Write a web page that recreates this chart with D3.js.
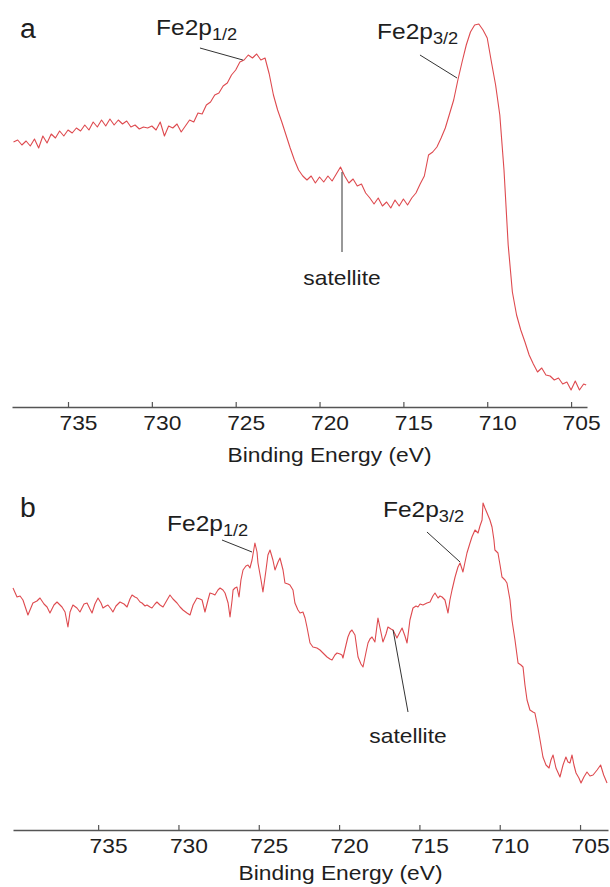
<!DOCTYPE html>
<html>
<head>
<meta charset="utf-8">
<script src="https://cdn.jsdelivr.net/npm/d3@7"></script>
<style>
  html, body { margin: 0; padding: 0; background: #fff; }
  svg { display: block; }
</style>
</head>
<body>
<div id="chart"></div>
<script>
// ---------------- DATA ----------------
// Binding-energy ticks (eV)
const tickValues = [735, 730, 725, 720, 715, 710, 705];
const axisTitle = "Binding Energy (eV)";
const panelLetters = ["a", "b"];

// Energy window of each panel (eV)
const energyRangeA = [738.34, 704.05];
const energyRangeB = [740.30, 703.26];
// Intensity window (a.u.)
const intensityRange = [0, 400];

// Spectrum a : [binding energy (eV), intensity (a.u.)]
const spectrumA = [
[738.25,258],[738.0,260],[737.75,255],[737.5,259],[737.25,254],[737.0,261],[736.75,252],[736.5,264],[736.25,257],[736.0,266],
[735.75,262],[735.5,269],[735.25,264],[735.0,270],[734.75,267],[734.5,272],[734.25,269],[734.0,275],[733.75,270],[733.5,278],
[733.25,273],[733.0,280],[732.75,274],[732.5,281],[732.25,275],[732.0,280],[731.75,276],[731.5,279],[731.25,273],[731.0,275],
[730.75,271],[730.5,273],[730.25,272],[730.0,274],[729.75,270],[729.5,278],[729.25,264],[729.0,274],[728.75,272],[728.5,276],
[728.25,268],[728.0,274],[727.75,280],[727.5,278],[727.25,287],[727.0,286],[726.75,295],[726.5,298],[726.25,305],[726.0,307],
[725.75,314],[725.5,317],[725.25,325],[725.0,330],[724.75,338],[724.5,340],[724.25,345],[724.0,342],[723.75,346],[723.5,340],
[723.25,342],[723.0,326],[722.75,305],[722.5,290],[722.25,278],[722.0,265],[721.75,252],[721.5,240],[721.25,230],[721.0,224],
[720.75,220],[720.5,224],[720.25,217],[720.0,223],[719.75,218],[719.5,224],[719.25,219],[719.0,226],[718.75,233],[718.5,224],
[718.25,217],[718.0,221],[717.75,214],[717.5,216],[717.25,207],[717.0,202],[716.75,196],[716.5,202],[716.25,194],[716.0,198],
[715.75,192],[715.5,200],[715.25,194],[715.0,201],[714.75,195],[714.5,202],[714.25,207],[714.0,216],[713.75,224],[713.5,245],
[713.25,248],[713.0,253],[712.75,262],[712.5,272],[712.25,286],[712.0,300],[711.75,320],[711.5,338],[711.25,355],[711.0,368],
[710.75,375],[710.5,376],[710.25,370],[710.0,362],[709.75,338],[709.5,315],[709.25,285],[709.0,230],[708.75,155],[708.5,108],
[708.25,85],[708.0,70],[707.75,58],[707.5,45],[707.25,36],[707.0,28],[706.75,32],[706.5,25],[706.25,24],[706.0,20],
[705.75,22],[705.5,16],[705.25,18],[705.0,10],[704.75,19],[704.5,10],[704.25,16],[704.1,15]
];

// Spectrum b : [binding energy (eV), intensity (a.u.)]
const spectrumB = [
[740.30,212],[740.05,203],[739.86,204],[739.68,200],[739.37,185],[739.06,197],[738.81,199],[738.62,202],[738.37,196],[738.18,193],
[738.00,187],[737.75,195],[737.56,198],[737.25,193],[737.06,188],[736.88,173],[736.75,188],[736.57,195],[736.32,192],[736.13,188],
[735.88,196],[735.69,197],[735.51,191],[735.38,187],[735.20,196],[735.01,202],[734.82,197],[734.70,192],[734.51,194],[734.39,195],
[734.20,191],[734.08,188],[733.89,194],[733.64,198],[733.39,196],[733.20,193],[733.02,201],[732.89,205],[732.71,203],[732.58,202],
[732.39,198],[732.27,197],[732.08,194],[731.96,195],[731.77,193],[731.65,192],[731.46,196],[731.34,198],[731.15,195],[730.96,193],
[730.71,200],[730.53,205],[730.34,201],[730.09,197],[729.90,193],[729.72,190],[729.47,187],[729.28,185],[729.09,195],[728.85,202],
[728.66,201],[728.53,200],[728.35,188],[728.16,200],[728.04,207],[727.85,206],[727.73,205],[727.54,210],[727.41,212],[727.23,210],
[727.10,207],[726.91,197],[726.79,183],[726.66,200],[726.60,210],[726.48,212],[726.36,213],[726.23,203],[726.11,220],[725.98,230],
[725.80,234],[725.67,235],[725.55,232],[725.42,240],[725.24,257],[725.11,248],[725.05,237],[724.86,220],[724.74,208],[724.55,230],
[724.43,245],[724.30,250],[724.12,240],[723.99,230],[723.80,238],[723.68,242],[723.49,230],[723.37,217],[723.18,216],[723.06,215],
[722.87,210],[722.75,197],[722.56,190],[722.43,187],[722.25,188],[722.12,182],[722.00,173],[721.81,157],[721.63,153],[721.38,152],
[721.19,150],[720.94,146],[720.75,143],[720.57,141],[720.44,140],[720.26,145],[720.13,147],[719.94,146],[719.82,145],[719.76,142],
[719.57,155],[719.45,163],[719.32,168],[719.20,170],[719.01,165],[718.82,143],[718.64,136],[718.51,133],[718.32,148],[718.20,157],
[718.08,161],[717.95,163],[717.77,158],[717.58,182],[717.45,172],[717.27,158],[717.08,166],[716.96,173],[716.77,171],[716.64,170],
[716.40,162],[716.21,168],[716.08,172],[715.90,164],[715.77,157],[715.59,180],[715.40,192],[715.21,194],[715.09,193],[714.96,196],
[714.78,195],[714.53,197],[714.34,198],[714.16,204],[714.03,207],[713.84,202],[713.72,204],[713.59,203],[713.41,200],[713.22,187],
[713.10,200],[712.97,210],[712.78,223],[712.60,233],[712.47,237],[712.29,228],[712.16,238],[712.04,247],[711.85,257],[711.73,263],
[711.54,270],[711.35,267],[711.23,274],[711.10,280],[711.04,297],[710.92,292],[710.79,287],[710.61,280],[710.48,273],[710.36,260],
[710.30,250],[710.11,247],[709.98,235],[709.86,223],[709.67,220],[709.55,217],[709.36,200],[709.24,180],[709.05,160],[708.86,137],
[708.68,135],[708.55,133],[708.43,115],[708.30,100],[708.12,90],[707.93,88],[707.81,87],[707.62,72],[707.49,60],[707.31,43],
[707.12,35],[706.93,32],[706.81,40],[706.68,45],[706.50,32],[706.25,23],[706.06,35],[705.88,43],[705.75,38],[705.63,37],
[705.50,45],[705.38,35],[705.25,27],[705.07,22],[704.94,17],[704.76,23],[704.57,28],[704.38,24],[704.19,25],[703.94,30],
[703.72,35],[703.53,25],[703.32,17]
];

// Peak annotations: name, subscript, pointer tip (E, I), pointer tail (E, I), label anchor (E, I)
const annotationsA = [
  {name: "Fe2p", sub: "1/2", tip: [724.57, 340], tail: [727.13, 352], label: [729.75, 365], anchor: "start"},
  {name: "Fe2p", sub: "3/2", tip: [711.80, 322], tail: [714.01, 345], label: [716.57, 361], anchor: "start"},
  {name: "satellite", sub: "", tip: [718.66, 228], tail: [718.66, 148], label: [718.66, 115], anchor: "middle"}
];
const annotationsB = [
  {name: "Fe2p", sub: "1/2", tip: [725.42, 248], tail: [727.29, 260], label: [730.71, 269], anchor: "start"},
  {name: "Fe2p", sub: "3/2", tip: [712.47, 238], tail: [714.53, 268], label: [717.27, 283], anchor: "start"},
  {name: "satellite", sub: "", tip: [716.64, 170], tail: [715.71, 88], label: [715.71, 57], anchor: "middle"}
];

// ---------------- LAYOUT / STYLE ----------------
const W = 610, H = 887;
const FONT = '"Liberation Sans", Arial, Helvetica, sans-serif';
const SX = 1.14;          // horizontal stretch of the original figure's lettering
const TEXT_COLOR = "#1e1e1e";
const LINE_COLOR = "#de4a4f";
const AXIS_COLOR = "#555";

const panels = [
  {letter: panelLetters[0], data: spectrumA, notes: annotationsA, domain: energyRangeA,
   xRange: [12, 587], axisY: 407, yRange: [400, 0], letterPos: [20, 38], titleY: 462},
  {letter: panelLetters[1], data: spectrumB, notes: annotationsB, domain: energyRangeB,
   xRange: [13, 608], axisY: 830, yRange: [800, 400], letterPos: [20, 517], titleY: 880}
];

const svg = d3.select("#chart").append("svg")
  .attr("width", W).attr("height", H)
  .attr("viewBox", `0 0 ${W} ${H}`)
  .style("font-family", FONT);

function stretchedText(g, x, y, size, anchor) {
  return g.append("text")
    .attr("transform", `translate(${x},${y}) scale(${SX},1)`)
    .attr("text-anchor", anchor)
    .attr("font-size", size)
    .attr("fill", TEXT_COLOR);
}

panels.forEach(p => {
  const g = svg.append("g");
  const x = d3.scaleLinear().domain(p.domain).range(p.xRange);
  const y = d3.scaleLinear().domain(intensityRange).range(p.yRange);

  // spectrum
  const line = d3.line().x(d => x(d[0])).y(d => y(d[1]));
  g.append("path")
    .datum(p.data)
    .attr("d", line)
    .attr("fill", "none")
    .attr("stroke", LINE_COLOR)
    .attr("stroke-width", 1.1)
    .attr("stroke-linejoin", "round");

  // axis
  const axis = d3.axisBottom(x)
    .tickValues(tickValues)
    .tickSizeInner(-5)
    .tickSizeOuter(0)
    .tickFormat(d3.format("d"));
  const ag = g.append("g")
    .attr("transform", `translate(0,${p.axisY})`)
    .call(axis);
  ag.select(".domain").attr("stroke", AXIS_COLOR).attr("stroke-width", 1.6);
  ag.selectAll(".tick line").attr("stroke", AXIS_COLOR).attr("stroke-width", 1.2);
  ag.selectAll(".tick text")
    .attr("y", null).attr("dy", null)
    .attr("transform", `translate(10,23) scale(${SX},1)`)
    .attr("font-size", 20)
    .attr("font-family", FONT)
    .attr("fill", TEXT_COLOR);

  // axis title
  const mid = (p.xRange[0] + p.xRange[1]) / 2 + 30;
  stretchedText(g, mid, p.titleY, 20, "middle").text(axisTitle);

  // panel letter
  stretchedText(g, p.letterPos[0], p.letterPos[1], 27, "start")
    .attr("transform", `translate(${p.letterPos[0]},${p.letterPos[1]}) scale(1.05,1)`)
    .text(p.letter);

  // annotations
  p.notes.forEach(n => {
    g.append("line")
      .attr("x1", x(n.tail[0])).attr("y1", y(n.tail[1]))
      .attr("x2", x(n.tip[0])).attr("y2", y(n.tip[1]))
      .attr("stroke", "#333").attr("stroke-width", 1);
    const t = stretchedText(g, x(n.label[0]), y(n.label[1]), n.sub ? 21.5 : 20, n.anchor);
    t.append("tspan").text(n.name);
    if (n.sub) {
      t.append("tspan").attr("font-size", 16).attr("dy", 5).text(n.sub);
    }
  });
});
</script>
</body>
</html>
